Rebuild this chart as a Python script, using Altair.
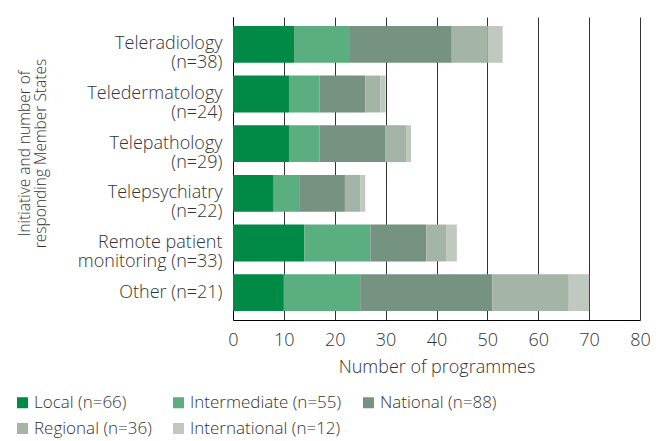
import altair as alt
import pandas as pd

categories = [
    "Teleradiology|(n=38)",
    "Teledermatology|(n=24)",
    "Telepathology|(n=29)",
    "Telepsychiatry|(n=22)",
    "Remote patient|monitoring (n=33)",
    "Other (n=21)",
]
series = ["Local (n=66)", "Intermediate (n=55)", "National (n=88)",
          "Regional (n=36)", "International (n=12)"]
local = [12, 11, 11, 8, 14, 10]
intermediate = [11, 6, 6, 5, 13, 15]
national = [20, 9, 13, 9, 11, 26]
regional = [7, 3, 4, 3, 4, 15]
international = [3, 1, 1, 1, 2, 4]
colors = ["#008a45", "#5bae7f", "#769381", "#a4b4a7", "#c0c9c0"]

rows = []
for s_i, (name, vals) in enumerate(zip(series, [local, intermediate, national, regional, international])):
    for c, v in zip(categories, vals):
        rows.append({"initiative": c, "level": name, "order": s_i, "value": v})
df = pd.DataFrame(rows)

FONT = "Open Sans"
FW = 300
TXT = "#333"

chart = alt.Chart(df).mark_bar().encode(
    y=alt.Y("initiative:N", sort=categories,
            scale=alt.Scale(paddingInner=0.257, paddingOuter=0.18),
            axis=alt.Axis(title=["Initiative and number of", "responding Member States"],
                          labelExpr="split(datum.label, '|')",
                          labelFontSize=18, labelFont=FONT, labelFontWeight=FW,
                          labelColor=TXT, labelLineHeight=19, labelPadding=11,
                          ticks=False, domainColor="#000", domainWidth=1,
                          titleFontSize=15.5, titleFont=FONT, titleFontWeight=FW,
                          titleColor=TXT, titleLineHeight=16.5,
                          titleX=-216, titleY=136, titleAngle=-90,
                          titleAlign="center", titleBaseline="top")),
    x=alt.X("value:Q", stack="zero",
            scale=alt.Scale(domain=[0, 80], nice=False),
            axis=alt.Axis(title="Number of programmes", values=list(range(0, 81, 10)),
                          grid=True, gridColor="#333", gridWidth=1,
                          ticks=False, domainColor="#000", labelFlush=False,
                          labelFontSize=18, labelFont=FONT, labelFontWeight=FW,
                          labelColor=TXT, labelPadding=11,
                          titleFontSize=18, titleFont=FONT, titleFontWeight=FW,
                          titleColor=TXT, titlePadding=9)),
    color=alt.Color("level:N", sort=series,
                    scale=alt.Scale(domain=series, range=colors),
                    legend=alt.Legend(title=None, orient="none", direction="horizontal",
                                      columns=3, legendX=-219, legendY=377,
                                      symbolType="square", symbolSize=121,
                                      symbolStrokeWidth=0, labelFontSize=17,
                                      labelFont=FONT, labelFontWeight=FW,
                                      labelColor=TXT, columnPadding=18,
                                      rowPadding=8, labelOffset=3)),
    order=alt.Order("order:Q"),
).properties(
    width=407, height=303,
    autosize=alt.AutoSizeParams(type="none"),
    padding={"left": 225, "top": 9, "right": 11, "bottom": 128},
).configure_view(stroke=None)

chart.save("out.html", embed_options={"renderer": "svg", "actions": False})
